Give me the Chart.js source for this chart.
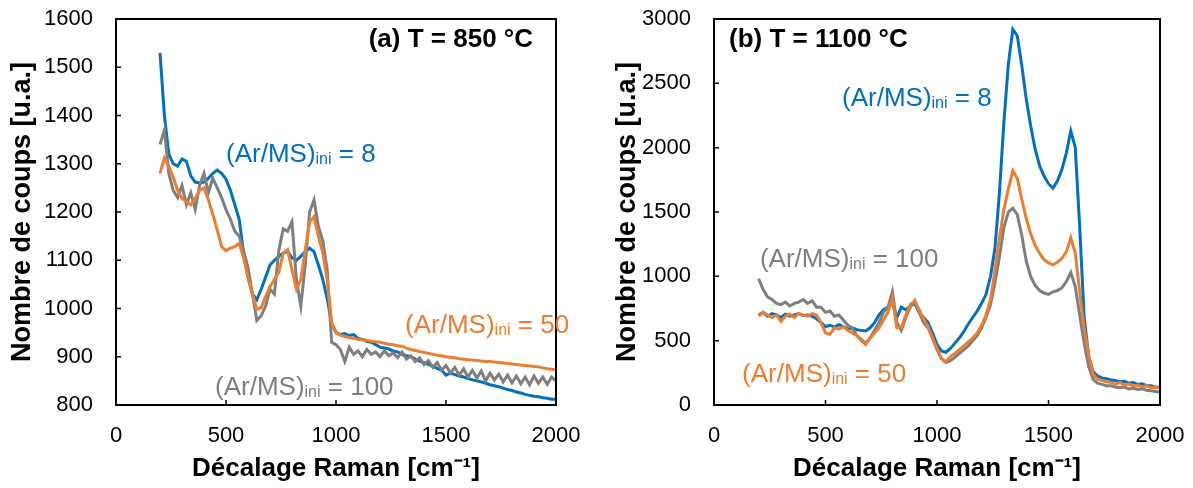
<!DOCTYPE html>
<html>
<head>
<meta charset="utf-8">
<script src="https://cdn.jsdelivr.net/npm/chart.js@4"></script>
<style>
html, body { margin: 0; padding: 0; background: #fff; }
#wrap { position: relative; width: 1193px; height: 488px; }
canvas { position: absolute; top: 0; }
#panelA { left: 0; }
#panelB { left: 600px; }
</style>
</head>
<body>
<div id="wrap">
    <canvas id="panelA" width="600" height="488"></canvas>
    <canvas id="panelB" width="593" height="488"></canvas>
</div>
<script>
// Raman shift grid (cm-1), shared by every spectrum
const ramanShift = [200,220,240,260,280,300,320,340,360,380,400,420,440,460,480,500,520,540,560,580,
    600,620,640,660,680,700,720,740,760,780,800,820,840,860,880,900,920,940,960,980,
    1000,1020,1040,1060,1080,1100,1120,1140,1160,1180,1200,1220,1240,1260,1280,1300,1320,1340,1360,1380,
    1400,1420,1440,1460,1480,1500,1520,1540,1560,1580,1600,1620,1640,1660,1680,1700,1720,1740,1760,1780,
    1800,1820,1840,1860,1880,1900,1920,1940,1960,1980,2000];

// (a) T = 850 °C
const t850_ratio8 = [1530,1400,1320,1300,1295,1310,1305,1275,1262,1260,
    1262,1270,1280,1287,1280,1268,1245,1215,1185,1115,
    1065,1030,1018,1040,1065,1090,1100,1108,1115,1118,
    1105,1100,1108,1118,1125,1118,1090,1060,1020,970,
    950,946,948,944,946,938,936,932,930,925,
    920,918,916,912,910,905,902,900,895,891,
    888,884,880,876,872,862,866,863,860,858,
    855,852,850,848,845,842,840,838,835,832,
    830,827,825,822,820,818,817,815,814,812,
    812];
const t850_ratio50 = [1280,1312,1295,1272,1245,1228,1222,1215,1228,1245,
    1250,1225,1195,1163,1128,1120,1125,1128,1135,1105,
    1065,1030,998,1002,1025,1045,1060,1075,1115,1122,
    1080,1040,1060,1120,1180,1190,1150,1115,1060,970,
    950,945,942,940,938,936,935,934,932,931,
    930,928,926,925,923,922,918,915,913,911,
    909,907,905,903,902,900,899,898,896,895,
    894,893,892,891,890,890,889,888,887,886,
    885,884,883,882,881,880,879,877,875,874,
    873];
const t850_ratio100 = [1340,1370,1280,1245,1230,1255,1215,1240,1205,1255,
    1280,1240,1270,1250,1230,1205,1185,1160,1150,1120,
    1085,1030,975,985,1005,1040,1030,1120,1165,1160,
    1180,1060,1005,1090,1200,1225,1170,1140,1080,930,
    925,915,890,920,905,912,900,915,905,910,
    900,912,902,908,898,910,895,902,890,898,
    884,892,878,888,872,882,866,878,862,875,
    858,872,856,870,850,866,852,864,848,862,
    846,860,844,858,842,860,845,858,843,858,
    850];

// (b) T = 1100 °C
const t1100_ratio8 = [700,720,690,710,700,680,705,690,700,710,
    695,700,690,670,640,610,620,605,625,610,
    590,600,585,580,575,600,640,700,740,760,
    790,680,760,740,770,790,720,680,640,560,
    470,420,410,440,480,520,570,630,680,730,
    790,860,1000,1220,1650,2200,2650,2920,2870,2640,
    2380,2170,1990,1860,1780,1720,1685,1740,1830,1960,
    2130,2000,1380,680,380,260,225,210,205,195,
    190,180,185,170,175,160,165,150,150,140,
    135];
const t1100_ratio50 = [690,720,700,680,700,650,690,705,680,710,
    700,690,710,700,640,560,550,600,590,610,
    580,560,540,500,470,520,560,600,660,720,
    830,600,600,700,780,810,740,670,610,520,
    440,360,340,375,400,430,460,490,520,560,
    620,700,820,1050,1300,1520,1680,1820,1760,1600,
    1450,1330,1240,1180,1130,1105,1090,1110,1140,1190,
    1300,1180,880,600,390,240,200,190,180,175,
    160,175,155,165,150,155,140,150,135,140,
    130];
const t1100_ratio100 = [980,900,840,820,790,780,800,770,790,800,
    820,790,810,760,760,720,730,690,700,660,
    620,600,540,510,480,520,580,640,720,760,
    880,640,580,680,760,810,720,640,600,520,
    430,360,330,345,370,400,430,460,500,540,
    600,680,780,950,1150,1380,1500,1530,1480,1320,
    1120,1000,930,890,870,860,880,890,910,960,
    1030,920,700,480,300,200,170,160,150,150,
    140,135,140,125,130,120,125,115,110,105,
    100];

const xTicks = [0, 500, 1000, 1500, 2000];
const yTicks850 = [800, 900, 1000, 1100, 1200, 1300, 1400, 1500, 1600];
const yTicks1100 = [0, 500, 1000, 1500, 2000, 2500, 3000];

const FONT = '"Liberation Sans", Arial, sans-serif';
const BLUE = '#0070C0', ORANGE = '#ED7D31', GREY = '#7F7F7F';

Chart.defaults.font.family = FONT;
Chart.defaults.color = '#000';

function drawSeriesLabel(ctx, px, baseline, ratio, color) {
    ctx.textAlign = 'left';
    ctx.textBaseline = 'alphabetic';
    ctx.fillStyle = color;
    ctx.font = '26px ' + FONT;
    ctx.fillText('(Ar/MS)', px, baseline);
    let w = ctx.measureText('(Ar/MS)').width;
    ctx.font = '16px ' + FONT;
    ctx.fillText('ini', px + w, baseline + 2);
    w += ctx.measureText('ini').width;
    ctx.font = '26px ' + FONT;
    ctx.fillText(' = ' + ratio, px + w, baseline);
}

// frame, inward tick marks, panel heading and series labels
const panelDecor = {
    id: 'panelDecor',
    afterDatasetsDraw(chart, args, opts) {
        const { ctx, chartArea: a, scales: { x, y } } = chart;
        ctx.save();
        ctx.strokeStyle = '#000';
        ctx.lineWidth = 2;
        ctx.strokeRect(a.left, a.top, a.right - a.left, a.bottom - a.top);
        ctx.lineWidth = 1.5;
        ctx.beginPath();
        x.ticks.forEach(t => {
            const px = x.getPixelForValue(t.value);
            ctx.moveTo(px, a.bottom);
            ctx.lineTo(px, a.bottom - 5);
        });
        y.ticks.forEach(t => {
            const py = y.getPixelForValue(t.value);
            ctx.moveTo(a.left, py);
            ctx.lineTo(a.left + 5, py);
        });
        ctx.stroke();

        ctx.fillStyle = '#000';
        ctx.font = 'bold 26px ' + FONT;
        ctx.textBaseline = 'middle';
        ctx.textAlign = opts.headingAlign;
        const hx = opts.headingAlign === 'right' ? a.right - opts.headingInset : a.left + opts.headingInset;
        ctx.fillText(opts.heading, hx, a.top + 21);

        opts.labels.forEach(l => {
            drawSeriesLabel(ctx, x.getPixelForValue(l.x), y.getPixelForValue(l.y) + 9, l.ratio, l.color);
        });
        ctx.restore();
    }
};

function series(values, color) {
    return {
        data: ramanShift.map((x, i) => ({ x: x, y: values[i] })),
        borderColor: color,
        borderWidth: 3,
        pointRadius: 0,
        tension: 0,
        fill: false
    };
}

function buildPanel(canvas, cfg) {
    new Chart(canvas, {
        type: 'line',
        data: {
            datasets: [
                series(cfg.ratio50, ORANGE),
                series(cfg.ratio100, GREY),
                series(cfg.ratio8, BLUE)
            ]
        },
        options: {
            responsive: false,
            animation: false,
            events: [],
            layout: { padding: { left: 0, right: cfg.padRight, top: 19, bottom: 0 } },
            plugins: {
                legend: { display: false },
                tooltip: { enabled: false },
                panelDecor: {
                    heading: cfg.heading,
                    headingAlign: cfg.headingAlign,
                    headingInset: cfg.headingInset,
                    labels: cfg.labels
                }
            },
            scales: {
                x: {
                    type: 'linear',
                    min: xTicks[0],
                    max: xTicks[xTicks.length - 1],
                    afterBuildTicks: s => { s.ticks = xTicks.map(v => ({ value: v })); },
                    ticks: { padding: 18, font: { size: 22 }, color: '#000', maxRotation: 0, callback: v => String(v) },
                    grid: { display: false, drawTicks: false },
                    border: { display: false },
                    title: {
                        display: true,
                        text: 'Décalage Raman [cm⁻¹]',
                        color: '#000',
                        font: { size: 26, weight: 'bold' },
                        padding: { top: 0, bottom: 4 }
                    },
                    afterFit: s => { s.height = 83; s.paddingLeft = 0; s.paddingRight = 0; }
                },
                y: {
                    type: 'linear',
                    min: cfg.yTicks[0],
                    max: cfg.yTicks[cfg.yTicks.length - 1],
                    afterBuildTicks: s => { s.ticks = cfg.yTicks.map(v => ({ value: v })); },
                    ticks: { padding: 23, font: { size: 22 }, color: '#000', callback: v => String(v) },
                    grid: { display: false, drawTicks: false },
                    border: { display: false },
                    title: {
                        display: true,
                        text: 'Nombre de coups [u.a.]',
                        color: '#000',
                        font: { size: 27, weight: 'bold' },
                        padding: { top: cfg.titlePad, bottom: 0 }
                    },
                    afterFit: s => { s.width = cfg.yWidth; s.paddingTop = 0; s.paddingBottom = 0; }
                }
            }
        },
        plugins: [panelDecor]
    });
}

buildPanel(document.getElementById('panelA'), {
    ratio8: t850_ratio8, ratio50: t850_ratio50, ratio100: t850_ratio100,
    yTicks: yTicks850,
    padRight: 44, yWidth: 116, titlePad: 6,
    heading: '(a) T = 850 °C', headingAlign: 'right', headingInset: 23,
    labels: [
        { ratio: '8', x: 500, y: 1322, color: BLUE },
        { ratio: '50', x: 1314, y: 968, color: ORANGE },
        { ratio: '100', x: 450, y: 839, color: GREY }
    ]
});

buildPanel(document.getElementById('panelB'), {
    ratio8: t1100_ratio8, ratio50: t1100_ratio50, ratio100: t1100_ratio100,
    yTicks: yTicks1100,
    padRight: 33, yWidth: 114, titlePad: 11,
    heading: '(b) T = 1100 °C', headingAlign: 'left', headingInset: 15,
    labels: [
        { ratio: '8', x: 574, y: 2394, color: BLUE },
        { ratio: '100', x: 206, y: 1142, color: GREY },
        { ratio: '50', x: 126, y: 248, color: ORANGE }
    ]
});
</script>
</body>
</html>
